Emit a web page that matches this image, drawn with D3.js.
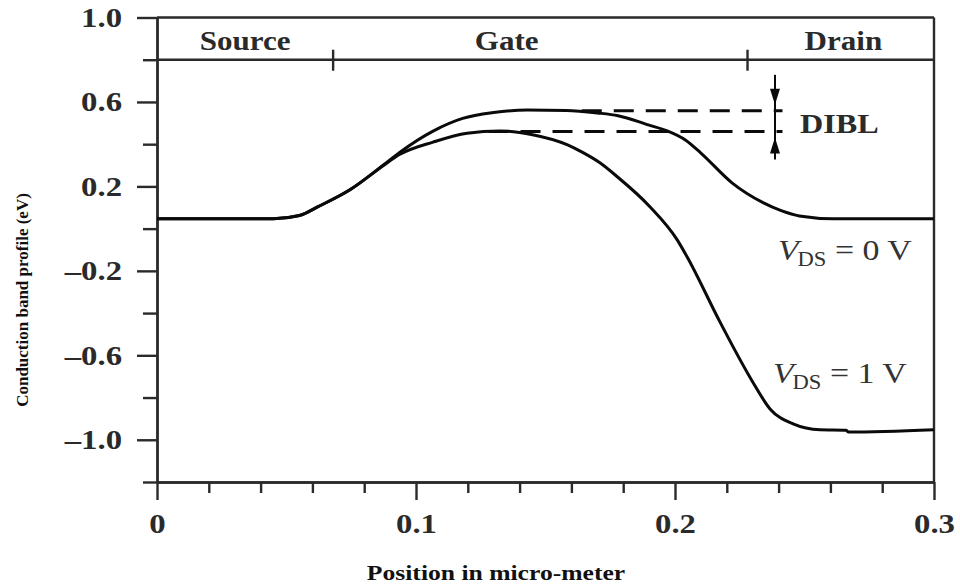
<!DOCTYPE html>
<html>
<head>
<meta charset="utf-8">
<script src="https://cdn.jsdelivr.net/npm/d3@7/dist/d3.min.js"></script>
<style>
  html, body { margin: 0; padding: 0; background: #fff; }
  svg { display: block; font-family: "Liberation Serif", "Times New Roman", serif; }
</style>
</head>
<body>
<svg id="chart" width="960" height="588"></svg>
<script>
// ---- data: conduction band energy (eV) along the channel (micro-meter) ----
const positionsVds0 = [0, 0.045, 0.055, 0.062, 0.0745, 0.0873, 0.0938, 0.1066, 0.118, 0.130, 0.143, 0.158, 0.170, 0.178, 0.190, 0.197, 0.204, 0.210, 0.222, 0.234, 0.241, 0.248, 0.261, 0.300];
const energyVds0    = [0.047, 0.047, 0.062, 0.103, 0.184, 0.300, 0.362, 0.462, 0.522, 0.550, 0.562, 0.560, 0.548, 0.535, 0.490, 0.463, 0.420, 0.358, 0.217, 0.123, 0.085, 0.060, 0.047, 0.047];

const positionsVds1 = [0, 0.045, 0.055, 0.062, 0.0745, 0.0873, 0.0938, 0.1066, 0.1197, 0.1324, 0.145, 0.1583, 0.1645, 0.171, 0.1776, 0.1903, 0.2008, 0.2046, 0.2174, 0.230, 0.2367, 0.2456, 0.256, 0.266, 0.267, 0.300];
const energyVds1    = [0.047, 0.047, 0.062, 0.103, 0.184, 0.298, 0.352, 0.410, 0.452, 0.463, 0.445, 0.398, 0.360, 0.312, 0.247, 0.104, -0.052, -0.132, -0.443, -0.726, -0.854, -0.925, -0.953, -0.955, -0.963, -0.952];

const seriesBias = ["0", "1"];                 // V_DS of each curve, in volts
const barrierTops = [0.558, 0.460];            // barrier heights marked by the DIBL lines

const yMajorTicks = [1.0, 0.6, 0.2, -0.2, -0.6, -1.0];
const yMinorTicks = [0.8, 0.4, 0.0, -0.4, -0.8, -1.2];
const xMajorTicks = [0, 0.1, 0.2, 0.3];
const xMinorTicks = [0.02, 0.04, 0.06, 0.08, 0.12, 0.14, 0.16, 0.18, 0.22, 0.24, 0.26, 0.28];

const regionNames  = ["Source", "Gate", "Drain"];
const regionBounds = [0, 0.068, 0.228, 0.3];

// ---- layout ----
const svg = d3.select("#chart");
const x = d3.scaleLinear().domain([0, 0.3]).range([157, 934]);
const y = d3.scaleLinear().domain([-1.2, 1.0]).range([482, 17.5]);
const ink = "#2a2a2a";
const axisWidth = 2.4;

// widen text horizontally by factor k (the figure's type is set wide)
function widen(sel, k) {
  sel.each(function () {
    const w = this.getComputedTextLength();
    this.setAttribute("textLength", (w * k).toFixed(1));
    this.setAttribute("lengthAdjust", "spacingAndGlyphs");
  });
}

const fmt = d => d === 0 ? "0" : (d < 0 ? "\u2013" + Math.abs(d).toFixed(1) : d.toFixed(1));

// y axis: major ticks with labels, minor ticks without
const yMajor = svg.append("g").attr("transform", `translate(${x(0)},0)`)
  .call(d3.axisLeft(y).tickValues(yMajorTicks).tickSize(20).tickSizeOuter(0).tickPadding(15).tickFormat(fmt));
const yMinor = svg.append("g").attr("transform", `translate(${x(0)},0)`)
  .call(d3.axisLeft(y).tickValues(yMinorTicks).tickSize(14).tickSizeOuter(0).tickFormat(""));

// x axis
const xMajor = svg.append("g").attr("transform", `translate(0,${y(-1.2)})`)
  .call(d3.axisBottom(x).tickValues(xMajorTicks).tickSize(18).tickSizeOuter(0).tickPadding(13)
    .tickFormat(d => d === 0 ? "0" : d.toFixed(1)));
const xMinor = svg.append("g").attr("transform", `translate(0,${y(-1.2)})`)
  .call(d3.axisBottom(x).tickValues(xMinorTicks).tickSize(11).tickSizeOuter(0).tickFormat(""));

[yMajor, yMinor, xMajor, xMinor].forEach(g => {
  g.selectAll("path, line").attr("stroke", ink).attr("stroke-width", axisWidth);
  g.selectAll("text").attr("fill", ink).attr("font-size", 28).attr("font-weight", "bold")
    .attr("font-family", "'Liberation Serif', serif");
});
widen(yMajor.selectAll("text"), 1.17);
widen(xMajor.selectAll("text"), 1.17);

// frame: top border, right border, region band line
const frame = svg.append("g").attr("stroke", ink).attr("stroke-width", axisWidth).attr("fill", "none");
frame.append("line").attr("x1", x(0)).attr("x2", x(0.3)).attr("y1", y(1.0)).attr("y2", y(1.0));
frame.append("line").attr("x1", x(0.3)).attr("x2", x(0.3)).attr("y1", y(1.0)).attr("y2", y(-1.2));
frame.append("line").attr("x1", x(0)).attr("x2", x(0.3)).attr("y1", y(0.8)).attr("y2", y(0.8));
// region dividers on the band line
frame.selectAll("line.divider").data(regionBounds.slice(1, -1)).join("line")
  .attr("class", "divider")
  .attr("x1", d => x(d)).attr("x2", d => x(d))
  .attr("y1", y(0.8) - 10).attr("y2", y(0.8) + 11);

// region names
const regionLabelAt = [0.034, 0.135, 0.265];
svg.append("g").selectAll("text").data(regionNames).join("text")
  .attr("x", (d, i) => x(regionLabelAt[i]))
  .attr("y", 50)
  .attr("text-anchor", "middle")
  .attr("font-size", 27).attr("font-weight", "bold").attr("fill", ink)
  .text(d => d)
  .call(widen, 1.15);

// band profiles
const line = d3.line().x(d => x(d[0])).y(d => y(d[1])).curve(d3.curveMonotoneX);
const series = [
  d3.zip(positionsVds0, energyVds0),
  d3.zip(positionsVds1, energyVds1)
];
svg.append("g").selectAll("path").data(series).join("path")
  .attr("d", line)
  .attr("fill", "none")
  .attr("stroke", "#0a0a0a")
  .attr("stroke-width", 3)
  .attr("stroke-linejoin", "round");

// DIBL marker: dashed barrier-top levels and double arrow
const diblStart = [0.164, 0.128];
const diblEnd = 0.2415;
const diblX = 0.2386;
const dibl = svg.append("g").attr("stroke", "#0a0a0a");
dibl.selectAll("line.level").data(barrierTops).join("line")
  .attr("class", "level")
  .attr("x1", (d, i) => x(diblStart[i])).attr("x2", x(diblEnd))
  .attr("y1", d => y(d)).attr("y2", d => y(d))
  .attr("stroke-width", 3).attr("stroke-dasharray", "20 12");
dibl.append("line")
  .attr("x1", x(diblX)).attr("x2", x(diblX))
  .attr("y1", y(barrierTops[0]) - 36).attr("y2", y(barrierTops[1]) + 28)
  .attr("stroke-width", 2);
// arrowheads pointing at each level
const head = (tipY, dir) => {
  const cx = x(diblX);
  return `M${cx},${tipY} L${cx - 5},${tipY - dir * 16} L${cx + 5},${tipY - dir * 16} Z`;
};
dibl.append("path").attr("d", head(y(barrierTops[0]) - 6, 1)).attr("fill", "#0a0a0a").attr("stroke", "none");
dibl.append("path").attr("d", head(y(barrierTops[1]) + 6, -1)).attr("fill", "#0a0a0a").attr("stroke", "none");
svg.append("text")
  .attr("x", 800).attr("y", 133)
  .attr("font-size", 28).attr("font-weight", "bold").attr("fill", ink)
  .text("DIBL")
  .call(widen, 1.15);

// curve labels: V_DS = ... V
const labelPos = [[778, 260], [773, 383]];
seriesBias.forEach((v, i) => {
  const t = svg.append("text")
    .attr("transform", `translate(${labelPos[i][0]},${labelPos[i][1]}) scale(1.13,1)`)
    .attr("font-size", 30).attr("fill", "#333");
  t.append("tspan").attr("font-style", "italic").text("V");
  t.append("tspan").attr("font-size", 20).attr("dy", 6).attr("dx", -1).text("DS");
  t.append("tspan").attr("dy", -6).text(" = " + v + " V");
});

// axis titles
svg.append("text")
  .attr("transform", `translate(28,300) rotate(-90)`)
  .attr("text-anchor", "middle")
  .attr("font-size", 17).attr("font-weight", "bold").attr("fill", "#111")
  .text("Conduction band profile (eV)");
svg.append("text")
  .attr("x", 496).attr("y", 580)
  .attr("text-anchor", "middle")
  .attr("font-size", 20).attr("font-weight", "bold").attr("fill", "#111")
  .text("Position in micro-meter")
  .call(widen, 1.28);
</script>
</body>
</html>
